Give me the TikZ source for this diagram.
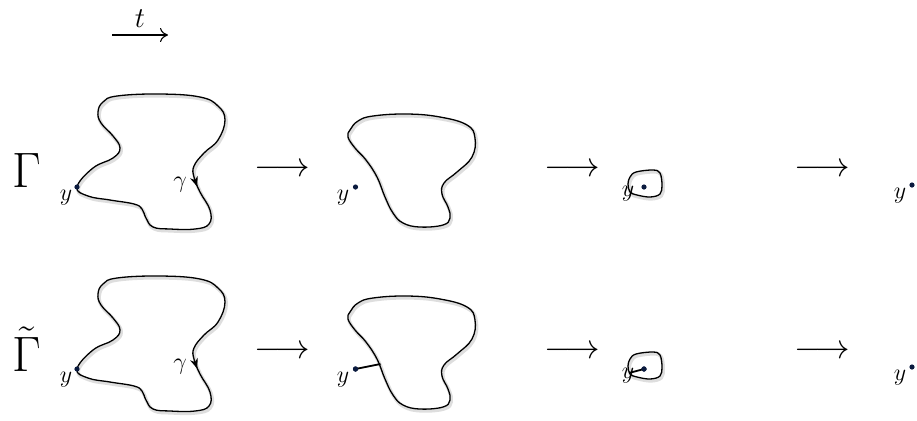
\documentclass[tikz,border=0pt]{standalone}
\usetikzlibrary{arrows.meta}
\definecolor{dotblue}{HTML}{0B1B3F}
\begin{document}
\begin{tikzpicture}[x=0.5pt,y=-0.5pt,
  curve/.style={line width=0.65pt, black,
    preaction={draw=black!13, line width=1.8pt, transform canvas={shift={(0.6pt,-0.9pt)}}}},
  ydot/.style={circle, fill=dotblue, inner sep=0pt, minimum size=2.6pt},
  lab/.style={font=\fontsize{13}{15}\selectfont, inner sep=0pt},
  bigarrow/.style={font=\fontsize{17}{20}\selectfont, inner sep=0pt},
  rowlab/.style={font=\fontsize{24}{28}\selectfont, inner sep=0pt},
  seg/.style={line width=0.9pt, black}]
\useasboundingbox (0,0) rectangle (917,420);

% time arrow
\node[lab, font=\fontsize{15}{17}\selectfont] (tlab) at (140,19) {$t$};
\coordinate (ta) at (112,35);
\coordinate (tb) at (168,35);
\draw[line width=0.55pt, -{To[length=4pt,width=7pt]}] (ta) -- (tb);

\foreach \dy/\r in {0/1,182/2}{
\begin{scope}[shift={(0,\dy)}]
  % first curve
  \draw[curve] plot[smooth cycle, tension=0.7] coordinates {
   (77,187) (93,168) (113,158) (120,148) (113,136) (101,123) (98,112) (103,102)
   (117,96) (160,94) (200,97) (218,106) (225,120) (218,140) (204,153) (194,166)
   (194,177) (200,192) (210,210) (209,224) (195,229) (170,229) (153,227) (146,218)
   (142,209) (134,204) (110,200) (88,196)};
  \coordinate (ga\r) at (194.6,179);
  \coordinate (gb\r) at (197.2,186.5);
  \draw[line width=0.6pt, -{Stealth[length=5pt,width=4pt]}] (ga\r) -- (gb\r);
  \node[ydot] (d1\r) at (77,187) {};
  \node[lab] (y1\r) at (66,198) {$y$};
  \node[lab] (gam\r) at (180,185) {$\gamma$};

  \node[bigarrow] (a1\r) at (282,170) {$\longrightarrow$};

  % second curve
  \draw[curve] plot[smooth cycle, tension=0.7] coordinates {
   (350,130) (358,121) (373,116) (407,114) (440,117) (467,125) (475,138) (472,157)
   (457,172) (444,183) (442,194) (448,207) (450,218) (443,225) (420,227) (403,223)
   (393,213) (385,197) (377,177) (366,160) (355,148) (348,137)};
  \node[ydot] (d2\r) at (355.5,187) {};
  \node[lab] (y2\r) at (343,198) {$y$};

  \node[bigarrow] (a2\r) at (572,170) {$\longrightarrow$};

  % third curve
  \draw[curve] plot[smooth cycle, tension=0.6] coordinates {
   (630,177) (636,172) (653,170) (660,173) (662,185) (660,194) (650,197) (637,195)
   (630,192) (628,184)};
  \node[ydot] (d3\r) at (644,187) {};
  \node[lab] (y3\r) at (628,194) {$y$};

  \node[bigarrow] (a3\r) at (822,170) {$\longrightarrow$};

  % limit
  \node[ydot] (d4\r) at (912,185) {};
  \node[lab] (y4\r) at (900,196) {$y$};
\end{scope}
}

\node[rowlab] (G1) at (27,170) {$\Gamma$};
\node[rowlab] (G2) at (27,349) {$\tilde{\Gamma}$};

% tree segments in second row
\coordinate (c2) at (380.5,364);
\draw[seg] (d22.center) -- (c2);
\coordinate (c3) at (629,373);
\draw[seg] (d32.center) -- (c3);
\node[ydot] at (d22) {};
\node[ydot] at (d32) {};
\end{tikzpicture}
\end{document}
